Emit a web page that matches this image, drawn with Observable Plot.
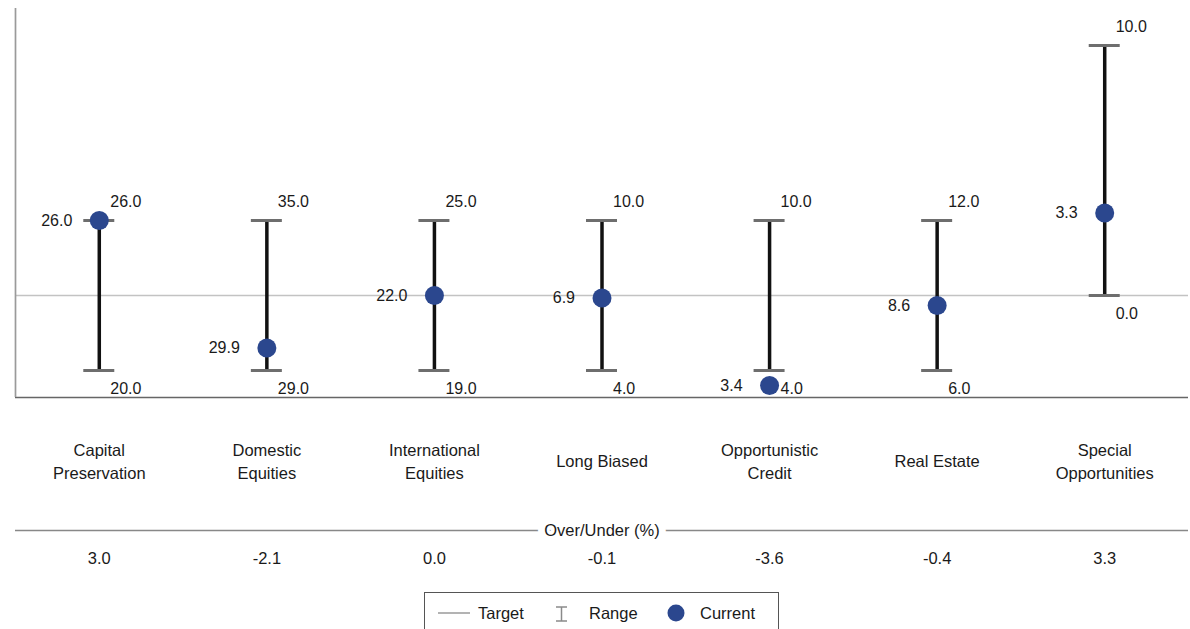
<!DOCTYPE html>
<html>
<head>
<meta charset="utf-8">
<script src="https://cdn.jsdelivr.net/npm/d3@7"></script>
<script src="https://cdn.jsdelivr.net/npm/@observablehq/plot@0.6"></script>
<style>
  html, body { margin: 0; padding: 0; background: #fff; }
  body { width: 1190px; height: 629px; overflow: hidden; font-family: "Liberation Sans", Arial, sans-serif; color: #1a1a1a; }
  #wrap { position: relative; width: 1190px; height: 629px; }
  #legend {
    position: absolute; left: 424px; top: 592px; width: 355px; height: 50px;
    border: 1.5px solid #555; box-sizing: border-box; background: #fff;
    font-size: 16.5px;
  }
  #legend .item { position: absolute; top: 8px; height: 24px; line-height: 24px; }
</style>
</head>
<body>
<div id="wrap">
  <div id="chart"></div>
  <div id="legend">
    <svg width="355" height="50" style="position:absolute;left:0;top:0">
      <line x1="13" x2="45" y1="20" y2="20" stroke="#9a9a9a" stroke-width="1.5"/>
      <g stroke="#8a8a8a" stroke-width="1.5">
        <line x1="131" x2="142" y1="14" y2="14"/>
        <line x1="131" x2="142" y1="28" y2="28"/>
        <line x1="136.5" x2="136.5" y1="14" y2="28"/>
      </g>
      <circle cx="251" cy="20" r="8.5" fill="#2b478e"/>
    </svg>
    <span class="item" style="left:53px">Target</span>
    <span class="item" style="left:164px">Range</span>
    <span class="item" style="left:275px">Current</span>
  </div>
</div>
<script>
// ---- data ----
const categories = ["Capital Preservation", "Domestic Equities", "International Equities", "Long Biased", "Opportunistic Credit", "Real Estate", "Special Opportunities"];
const categoryLabels = ["Capital\nPreservation", "Domestic\nEquities", "International\nEquities", "Long Biased", "Opportunistic\nCredit", "Real Estate", "Special\nOpportunities"];
const targets = [23, 32, 22, 7, 7, 9, 0];
const rangeMin = [20, 29, 19, 4, 4, 6, 0];
const rangeMax = [26, 35, 25, 10, 10, 12, 10];
const current = [26.0, 29.9, 22.0, 6.9, 3.4, 8.6, 3.3];
const overUnder = [3.0, -2.1, 0.0, -0.1, -3.6, -0.4, 3.3];
const overUnderTitle = "Over/Under (%)";

// ---- build rows (deviation from target) ----
const rows = categories.map((c, i) => ({
  cat: c,
  label: categoryLabels[i],
  lo: rangeMin[i] - targets[i],
  hi: rangeMax[i] - targets[i],
  cur: current[i] - targets[i],
  loV: rangeMin[i], hiV: rangeMax[i], curV: current[i],
  ou: overUnder[i]
}));

const locale = d3.formatLocale({ decimal: ".", thousands: ",", grouping: [3], currency: ["$", ""], minus: "-" });
const fmt = locale.format(".1f");
const W = 1190, H = 590, ML = 15, MR = 2, MT = 8, MB = 193;
const bw = (W - ML - MR) / categories.length;
const capW = 31;
const yMin = -4.08, yMax = 11.48;
const font = "Liberation Sans, Arial, sans-serif";
const ink = "#1a1a1a";

const chart = Plot.plot({
  width: W, height: H,
  marginLeft: ML, marginRight: MR, marginTop: MT, marginBottom: MB,
  style: { fontFamily: font, fontSize: "16px", color: ink, background: "#fff" },
  x: { type: "band", domain: categories, padding: 0, round: false, axis: null },
  y: { domain: [yMin, yMax], axis: null },
  marks: [
    // target line
    Plot.ruleY([0], { stroke: "#c3c3c3", strokeWidth: 1.5 }),
    // frame: bottom and left
    Plot.ruleY([yMin], { stroke: "#666", strokeWidth: 1.5 }),
    Plot.ruleX([categories[0]], { dx: -bw / 2, stroke: "#9a9a9a", strokeWidth: 1.7 }),
    // range bars
    Plot.ruleX(rows, { x: "cat", y1: "lo", y2: "hi", stroke: "#111", strokeWidth: 3.5 }),
    Plot.tickY(rows, { x: "cat", y: "hi", stroke: "#6e6e6e", strokeWidth: 3, insetLeft: (bw - capW) / 2, insetRight: (bw - capW) / 2 }),
    Plot.tickY(rows, { x: "cat", y: "lo", stroke: "#6e6e6e", strokeWidth: 3, insetLeft: (bw - capW) / 2, insetRight: (bw - capW) / 2 }),
    // current dots
    Plot.dot(rows, { x: "cat", y: "cur", r: 9.5, fill: "#2b478e", stroke: "none" }),
    // value labels
    Plot.text(rows, { x: "cat", y: "hi", text: d => fmt(d.hiV), dx: 11, dy: -19, textAnchor: "start", fontSize: 16, fill: ink }),
    Plot.text(rows, { x: "cat", y: "lo", text: d => fmt(d.loV), dx: 11, dy: 18, textAnchor: "start", fontSize: 16, fill: ink }),
    Plot.text(rows, { x: "cat", y: "cur", text: d => fmt(d.curV), dx: -27, textAnchor: "end", fontSize: 16, fill: ink }),
    // category labels
    Plot.text(rows, { x: "cat", text: "label", frameAnchor: "bottom", dy: 62.5, lineAnchor: "middle", lineHeight: 1.38, fontSize: 16.5, fill: ink }),
    // over/under section
    Plot.ruleY([yMin], { dy: 133, stroke: "#888", strokeWidth: 1.5 }),
    Plot.text([overUnderTitle], { text: d => d, frameAnchor: "bottom", dy: 133, lineAnchor: "middle", fontSize: 16.5, fill: ink, stroke: "#fff", strokeWidth: 14, paintOrder: "stroke" }),
    Plot.text(rows, { x: "cat", text: d => fmt(d.ou), frameAnchor: "bottom", dy: 161, lineAnchor: "middle", fontSize: 16.5, fill: ink })
  ]
});
document.getElementById("chart").appendChild(chart);
</script>
</body>
</html>
